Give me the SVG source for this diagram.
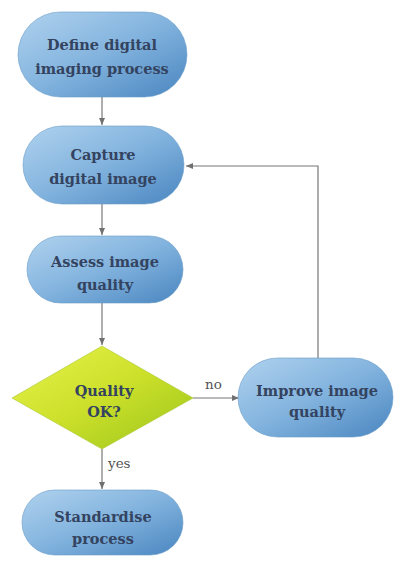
<svg xmlns="http://www.w3.org/2000/svg" width="398" height="566" viewBox="0 0 398 566">
<defs>
<linearGradient id="blue" x1="0" y1="0" x2="1" y2="1">
<stop offset="0" stop-color="#b0d2ee"/>
<stop offset="0.5" stop-color="#82b3de"/>
<stop offset="1" stop-color="#4a86c0"/>
</linearGradient>
<linearGradient id="green" x1="0" y1="0" x2="1" y2="1">
<stop offset="0" stop-color="#e8f24c"/>
<stop offset="0.5" stop-color="#cce02a"/>
<stop offset="1" stop-color="#98c41c"/>
</linearGradient>
<marker id="arr" markerWidth="8" markerHeight="8" refX="7" refY="4" orient="auto" markerUnits="userSpaceOnUse">
<path d="M0,1 L7,4 L0,7 z" fill="#707070"/>
</marker>
</defs>
<style>
.node{fill:url(#blue);stroke:#6a9cc8;stroke-width:0.6}
.dia{fill:url(#green);stroke:#a8c830;stroke-width:0.6}
.t{font-family:'DejaVu Serif',serif;font-weight:bold;font-size:14.5px;fill:#34435f;text-anchor:middle}
.lbl{font-family:'DejaVu Serif',serif;font-size:13.5px;fill:#555}
.c{stroke:#777;stroke-width:1.2;fill:none}
</style>
<rect width="398" height="566" fill="#fff"/>
<g id="connectors">
<line class="c" x1="102" y1="97" x2="102" y2="125" marker-end="url(#arr)"/>
<line class="c" x1="102" y1="204" x2="102" y2="235" marker-end="url(#arr)"/>
<line class="c" x1="102" y1="303" x2="102" y2="345" marker-end="url(#arr)"/>
<line class="c" x1="193" y1="398" x2="239" y2="398" marker-end="url(#arr)"/>
<polyline class="c" points="318,358 318,166 186,166" marker-end="url(#arr)"/>
<line class="c" x1="102" y1="449" x2="102" y2="489" marker-end="url(#arr)"/>
<text class="lbl" x="205" y="389">no</text>
<text class="lbl" x="108" y="468">yes</text>
</g>
<g id="define">
<rect class="node" x="18" y="12" width="169" height="85" rx="42.5"/>
<text class="t" x="102" y="50">Define digital</text>
<text class="t" x="102" y="74">imaging process</text>
</g>
<g id="capture">
<rect class="node" x="23" y="126" width="161" height="78" rx="39"/>
<text class="t" x="103" y="160">Capture</text>
<text class="t" x="103" y="184">digital image</text>
</g>
<g id="assess">
<rect class="node" x="27" y="236" width="156" height="67" rx="33.5"/>
<text class="t" x="105" y="267">Assess image</text>
<text class="t" x="105" y="290">quality</text>
</g>
<g id="quality">
<polygon class="dia" points="102,346 193,398 102,449 12,398"/>
<text class="t" x="104" y="396">Quality</text>
<text class="t" x="104" y="417">OK?</text>
</g>
<g id="improve">
<rect class="node" x="238" y="358" width="155" height="79" rx="39.5"/>
<text class="t" x="317" y="396">Improve image</text>
<text class="t" x="317" y="417">quality</text>
</g>
<g id="standardise">
<rect class="node" x="22" y="490" width="161" height="65" rx="32.5"/>
<text class="t" x="103" y="522">Standardise</text>
<text class="t" x="103" y="544">process</text>
</g>
</svg>
